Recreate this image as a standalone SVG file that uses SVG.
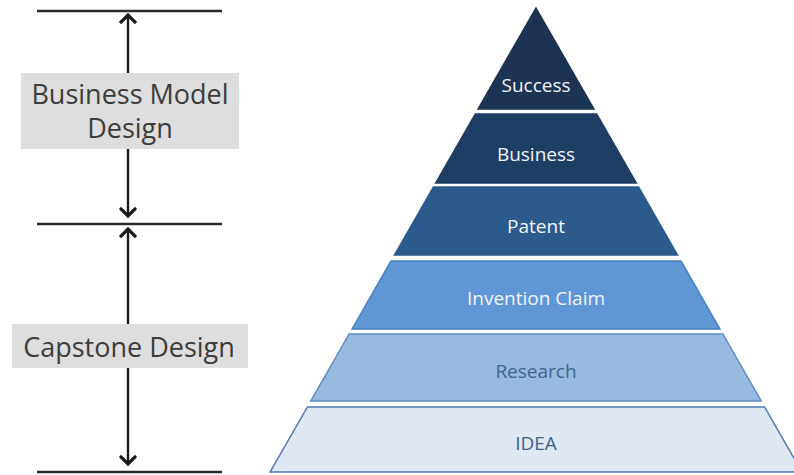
<svg xmlns="http://www.w3.org/2000/svg" width="794" height="475" viewBox="0 0 794 475">
<defs>
<style>
.rule{stroke:#2b2b2b;stroke-width:2.4;fill:none}
.arr{stroke:#1a1a1a;stroke-width:2.4;fill:none}
.box{fill:#dedede}
.lbl{font-family:"Open Sans","Noto Sans","DejaVu Sans",sans-serif;font-size:27px;fill:#3c3c3c;text-anchor:middle}
.pt{font-family:"Open Sans","Noto Sans","DejaVu Sans",sans-serif;font-size:19px;text-anchor:middle}
.w{fill:#f2f5f9}
.layer{stroke-width:1.5;stroke-linejoin:miter}
</style>
<marker id="ah" viewBox="0 0 16 18" refX="11" refY="9" markerWidth="16" markerHeight="18" markerUnits="userSpaceOnUse" orient="auto">
<path d="M3,1 L11,9 L3,17" stroke="#1a1a1a" stroke-width="3.2" fill="none"/>
</marker>
</defs>
<rect width="794" height="475" fill="#ffffff"/>

<g id="connectors">
<line class="rule" x1="37" y1="11" x2="222" y2="11"/>
<line class="rule" x1="37" y1="224" x2="222" y2="224"/>
<line class="rule" x1="37" y1="472" x2="222" y2="472"/>
<line class="arr" x1="128" y1="73" x2="128" y2="15" marker-end="url(#ah)"/>
<line class="arr" x1="128" y1="149" x2="128" y2="216" marker-end="url(#ah)"/>
<line class="arr" x1="128" y1="324" x2="128" y2="229" marker-end="url(#ah)"/>
<line class="arr" x1="128" y1="368" x2="128" y2="464" marker-end="url(#ah)"/>
</g>

<g id="business-model-design">
<rect class="box" x="21" y="73" width="218" height="76"/>
<text class="lbl" x="130" y="104">Business Model</text>
<text class="lbl" x="130" y="138">Design</text>
</g>

<g id="capstone-design">
<rect class="box" x="12" y="324" width="236" height="44"/>
<text class="lbl" x="129" y="357">Capstone Design</text>
</g>

<g id="success">
<polygon class="layer" points="536,8 593.9,109 478.1,109" fill="#1c3354" stroke="#1c3354"/>
<text class="pt w" x="536" y="92">Success</text>
</g>
<g id="business">
<polygon class="layer" points="475.3,114 596.7,114 636.3,183 435.7,183" fill="#1f3e66" stroke="#1f3e66"/>
<text class="pt w" x="536" y="161">Business</text>
</g>
<g id="patent">
<polygon class="layer" points="433.4,187 638.6,187 677.5,255 394.5,255" fill="#2b5a8d" stroke="#2b5a8d"/>
<text class="pt w" x="536" y="233">Patent</text>
</g>
<g id="invention-claim">
<polygon class="layer" points="391,261 681,261 719.9,329 352.1,329" fill="#5f96d6" stroke="#4a7fbf"/>
<text class="pt w" x="536" y="305">Invention Claim</text>
</g>
<g id="research">
<polygon class="layer" points="349.2,334 722.8,334 761.2,401 310.8,401" fill="#97badf" stroke="#5e8bc2"/>
<text class="pt" x="536" y="378" fill="#3d6592">Research</text>
</g>
<g id="idea">
<polygon class="layer" points="307.4,407 764.6,407 801.9,472 270.1,472" fill="#dfe8f3" stroke="#4d7bb2"/>
<text class="pt" x="536" y="450" fill="#41618a">IDEA</text>
</g>
</svg>
